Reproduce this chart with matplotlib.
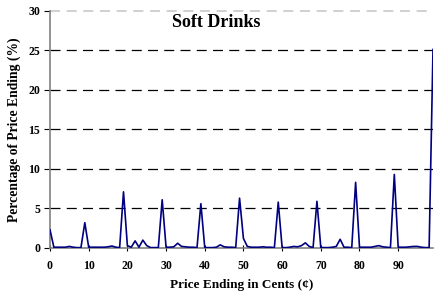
import matplotlib
matplotlib.use("Agg")
import matplotlib.pyplot as plt
import numpy as np

cents = list(range(100))
percent = [
    2.3, 0.1, 0.1, 0.1, 0.1, 0.2, 0.1, 0.05, 0.05, 3.2,
    0.1, 0.1, 0.1, 0.1, 0.1, 0.15, 0.25, 0.1, 0.05, 7.1,
    0.3, 0.1, 0.9, 0.1, 1.0, 0.3, 0.05, 0.05, 0.05, 6.1,
    0.1, 0.1, 0.15, 0.6, 0.2, 0.15, 0.1, 0.1, 0.05, 5.6,
    0.05, 0.05, 0.05, 0.1, 0.4, 0.15, 0.1, 0.1, 0.05, 6.3,
    1.2, 0.2, 0.1, 0.1, 0.1, 0.15, 0.1, 0.1, 0.05, 5.8,
    0.05, 0.05, 0.1, 0.2, 0.15, 0.3, 0.65, 0.2, 0.05, 5.9,
    0.05, 0.05, 0.05, 0.1, 0.2, 1.1, 0.1, 0.1, 0.05, 8.3,
    0.1, 0.1, 0.1, 0.1, 0.2, 0.3, 0.15, 0.1, 0.05, 9.3,
    0.1, 0.1, 0.1, 0.15, 0.2, 0.2, 0.1, 0.05, 0.05, 25.1,
]
x_ticks = [0, 10, 20, 30, 40, 50, 60, 70, 80, 90]
y_ticks = [0, 5, 10, 15, 20, 25, 30]
title = "Soft Drinks"
xlabel = "Price Ending in Cents (\u00a2)"
ylabel = "Percentage of Price Ending (%)"

serif = ["Liberation Serif", "DejaVu Serif"]
fig = plt.figure(figsize=(4.35, 3.02), dpi=100)
ax = fig.add_axes([50 / 435, 54 / 302, 383 / 435, 237.3 / 302])

for yv in y_ticks[1:-1]:
    ax.axhline(yv, color="black", lw=0.9, ls=(0, (8, 5)), zorder=1)
ax.axhline(30, color="#c8c8c8", lw=1.2, ls=(0, (6, 4)), zorder=1, clip_on=False)

ax.plot(cents, percent, color="#000080", lw=1.2, zorder=3)

ax.set_xlim(0, 99)
ax.set_ylim(0, 30)
ax.set_xticks(x_ticks)
ax.set_yticks(y_ticks)
for s in ["top", "right"]:
    ax.spines[s].set_visible(False)
for s in ["left", "bottom"]:
    ax.spines[s].set_color("#808080")
    ax.spines[s].set_linewidth(1.2)
ax.tick_params(axis="y", direction="out", length=4, width=0.8, color="black", pad=3)
ax.tick_params(axis="x", direction="inout", length=5, width=0.8, color="black", pad=6)
for lab in ax.get_xticklabels() + ax.get_yticklabels():
    lab.set_fontfamily(serif)
    lab.set_fontweight("bold")
    lab.set_fontsize(8.5)

ax.set_xlabel(xlabel, fontfamily=serif, fontweight="bold", fontsize=9.5, labelpad=5)
ax.set_ylabel(ylabel, fontfamily=serif, fontweight="bold", fontsize=9.8, labelpad=5)
ax.text(0.435, 0.988, title, transform=ax.transAxes, ha="center", va="top",
        fontfamily=serif, fontweight="bold", fontsize=13)

fig.savefig("out.png", dpi=100)
